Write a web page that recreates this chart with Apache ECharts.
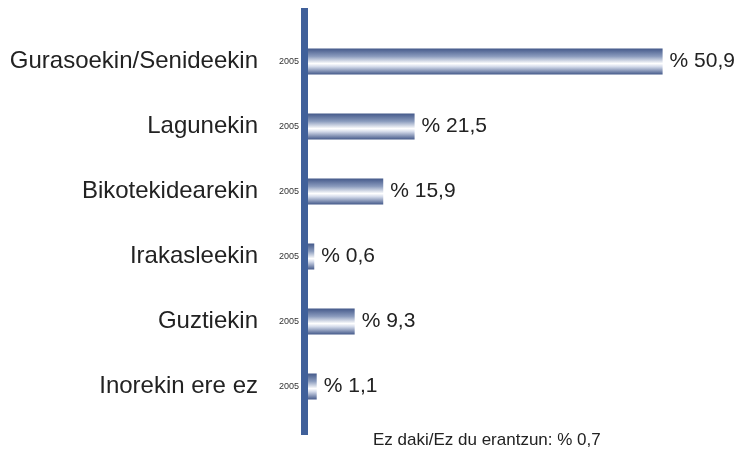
<!DOCTYPE html>
<html>
<head>
<meta charset="utf-8">
<script src="https://cdn.jsdelivr.net/npm/echarts@6/dist/echarts.min.js"></script>
<style>
  html, body { margin: 0; padding: 0; background: #fff; }
  #chart { width: 736px; height: 450px; }
</style>
</head>
<body>
<div id="chart"></div>
<script>
// kategoriak eta balioak
const categories = ['Gurasoekin/Senideekin', 'Lagunekin', 'Bikotekidearekin', 'Irakasleekin', 'Guztiekin', 'Inorekin ere ez'];
const year = '2005';
// etiketetan agertzen diren ehunekoak
const shares = [50.9, 21.5, 15.9, 0.6, 9.3, 1.1];
// barren luzera, irudian neurtuta (ez dator bat etiketekin)
const barLengths = [50.9, 15.3, 10.8, 0.9, 6.7, 1.25];
const footnote = 'Ez daki/Ez du erantzun: % 0,7';

const fmt = v => '% ' + String(v).replace('.', ',');

const myChart = echarts.init(document.getElementById('chart'));

myChart.setOption({
  animation: false,
  textStyle: { fontFamily: 'Liberation Sans, Arial, sans-serif' },
  title: {
    text: footnote,
    left: 368,
    top: 427,
    textStyle: { fontSize: 17, fontWeight: 'normal', color: '#222' }
  },
  grid: { left: 308, right: 10, top: 29, bottom: 31 },
  xAxis: {
    type: 'value',
    min: 0,
    max: 60,
    show: false
  },
  yAxis: {
    type: 'category',
    inverse: true,
    data: categories,
    axisLine: { show: false },
    axisTick: { show: false },
    axisLabel: {
      margin: 9,
      formatter: v => '{name|' + v + '}{yr|' + year + '}',
      rich: {
        name: { fontSize: 24, color: '#222', fontFamily: 'Liberation Sans, Arial, sans-serif' },
        yr: { fontSize: 9, color: '#333', padding: [0, 0, 0, 21], fontFamily: 'Liberation Sans, Arial, sans-serif' }
      }
    }
  },
  series: [{
    type: 'bar',
    barWidth: 26,
    data: barLengths,
    itemStyle: {
      color: new echarts.graphic.LinearGradient(0, 0, 0, 1, [
        { offset: 0, color: '#44598a' },
        { offset: 0.3, color: '#8a9bbd' },
        { offset: 0.58, color: '#ffffff' },
        { offset: 0.7, color: '#d3daea' },
        { offset: 1, color: '#44598a' }
      ])
    },
    label: {
      show: true,
      position: 'right',
      distance: 7,
      fontSize: 21,
      color: '#222',
      formatter: p => fmt(shares[p.dataIndex])
    }
  }],
  graphic: [{
    type: 'rect',
    shape: { x: 301, y: 8, width: 7, height: 427 },
    style: { fill: '#40609a' },
    z: 10
  }]
});
</script>
</body>
</html>
